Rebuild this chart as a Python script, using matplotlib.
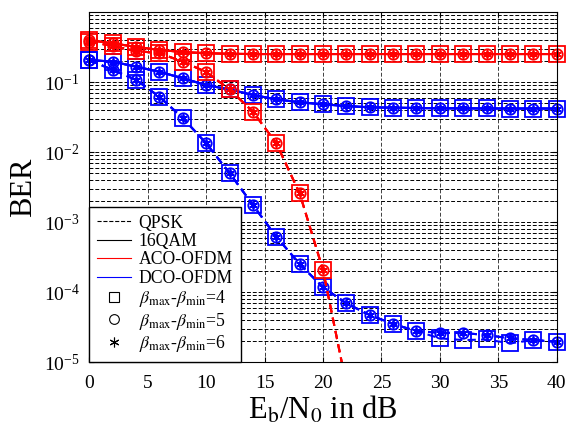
import numpy as np
import matplotlib
matplotlib.use('Agg')
import matplotlib.pyplot as plt
from matplotlib.lines import Line2D
from matplotlib.ticker import LogLocator, NullFormatter

plt.rcParams['font.family'] = 'Liberation Serif'
plt.rcParams['mathtext.fontset'] = 'stix'
plt.rcParams['axes.unicode_minus'] = False

# Eb/N0 points (dB)
snr_db = [0, 2, 4, 6, 8, 10, 12, 14, 16, 18, 20, 22, 24, 26, 28, 30, 32, 34, 36, 38, 40]

# ACO-OFDM
ber_aco_16qam = [0.40, 0.36, 0.32, 0.29, 0.27, 0.26, 0.255, 0.253, 0.253, 0.253, 0.253,
                 0.253, 0.253, 0.253, 0.253, 0.253, 0.253, 0.253, 0.253, 0.253, 0.253]
snr_aco_qpsk = [0, 2, 4, 6, 8, 10, 12, 14, 16, 18, 20, 22]
ber_aco_qpsk = [0.38, 0.33, 0.28, 0.26, 0.197, 0.14, 0.079, 0.038, 0.0134, 0.00258, 2.07e-4, 4.7e-6]

# DCO-OFDM
ber_dco_16qam = [0.208, 0.197, 0.167, 0.141, 0.114, 0.091, 0.079, 0.0657, 0.057, 0.0517, 0.0484,
                 0.0457, 0.0438, 0.0433, 0.0428, 0.0424, 0.0423, 0.0422, 0.0421, 0.0421, 0.0421]
ber_dco_qpsk = [0.208, 0.15, 0.108, 0.062, 0.0308, 0.0134, 0.00504, 0.00176, 6.19e-4, 2.52e-4, 1.17e-4,
                6.9e-5, 4.7e-5, 3.49e-5, 2.77e-5, 2.62e-5, 2.6e-5, 2.43e-5, 2.18e-5, 2.06e-5, 1.95e-5]
# beta_max - beta_min = 4 differs a bit at high SNR
ber_dco_qpsk_b4 = [0.208, 0.15, 0.108, 0.062, 0.0308, 0.0134, 0.00504, 0.00176, 6.19e-4, 2.52e-4, 1.17e-4,
                   6.9e-5, 4.7e-5, 3.49e-5, 2.77e-5, 2.18e-5, 2.06e-5, 2.1e-5, 1.85e-5, 2.06e-5, 1.95e-5]

beta_labels = [r'$\beta_{\rm max}$-$\beta_{\rm min}$=4',
               r'$\beta_{\rm max}$-$\beta_{\rm min}$=5',
               r'$\beta_{\rm max}$-$\beta_{\rm min}$=6']

y_lo, y_hi = 1e-5, 1.0
lw = 1.5
markers = [('s', 11), ('o', 7.5), ((6, 2, 0), 6)]

fig = plt.figure(figsize=(5.75, 4.30), dpi=100)
ax = fig.add_axes([0.1553, 0.1581, 0.8129, 0.8133])


def draw(x, y_sets, color, ls):
    for y, (m, ms) in zip(y_sets, markers):
        x = np.asarray(x)
        y = np.asarray(y)
        ax.plot(x, y, color=color, ls=ls, lw=lw, dashes=(4, 2.5) if ls == '--' else (None, None))
        keep = y >= y_lo
        ax.plot(x[keep], y[keep], ls='none', marker=m, ms=ms, mfc='none', mec=color,
                mew=1.3, clip_on=False)


draw(snr_db, [ber_dco_16qam] * 3, 'b', '-')
draw(snr_db, [ber_dco_qpsk_b4, ber_dco_qpsk, ber_dco_qpsk], 'b', '--')
draw(snr_db, [ber_aco_16qam] * 3, 'r', '-')
draw(snr_aco_qpsk, [ber_aco_qpsk] * 3, 'r', '--')

ax.set_yscale('log')
ax.set_xlim(0, 40)
ax.set_ylim(y_lo, y_hi)
ax.set_xticks([0, 5, 10, 15, 20, 25, 30, 35, 40])
ax.set_yticks([1e-5, 1e-4, 1e-3, 1e-2, 1e-1])
ax.yaxis.set_minor_locator(LogLocator(base=10, subs=np.arange(2, 10)))
ax.yaxis.set_minor_formatter(NullFormatter())
ax.tick_params(which='both', direction='in', top=True, right=True, labelsize=14)
ax.tick_params(axis='x', pad=9)
ax.tick_params(axis='y', pad=7)

ax.grid(True, which='both', axis='y', color='k', lw=0.7, ls=(0, (4, 2)))
ax.grid(True, which='major', axis='x', color='0.25', lw=0.7, ls=(0, (4, 2)))
ax.set_axisbelow(True)

ax.set_xlabel(r'E$_{\rm b}$/N$_{\rm 0}$ in dB', fontsize=22, labelpad=2)
ax.set_ylabel('BER', fontsize=22, labelpad=4)

handles = [
    Line2D([], [], color='k', ls='--', lw=0.8, label='QPSK'),
    Line2D([], [], color='k', ls='-', lw=0.8, label='16QAM'),
    Line2D([], [], color='r', ls='-', lw=0.8, label='ACO-OFDM'),
    Line2D([], [], color='b', ls='-', lw=0.8, label='DCO-OFDM'),
]
for (m, ms), lab in zip(markers, beta_labels):
    handles.append(Line2D([], [], ls='none', marker=m, ms=7, mfc='none',
                          mec='k', mew=0.8, label=lab))

leg = ax.legend(handles=handles, loc='lower left', borderaxespad=0, fontsize=12.7,
                fancybox=False, framealpha=1, edgecolor='k', handlelength=1.9,
                handletextpad=0.45, labelspacing=0.08, borderpad=0.45)
leg.get_frame().set_linewidth(1.0)

fig.savefig('out.png', dpi=100)
